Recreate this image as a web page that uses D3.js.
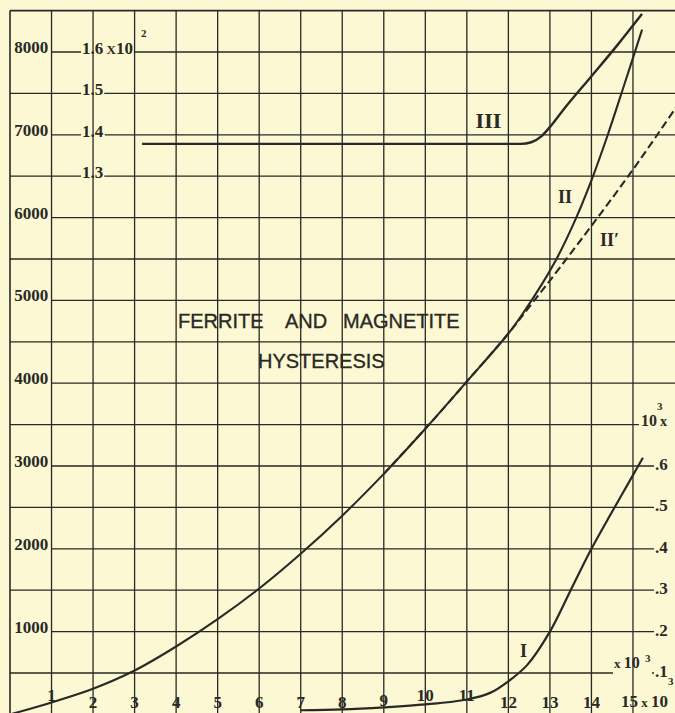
<!DOCTYPE html>
<html>
<head>
<meta charset="utf-8">
<script src="https://cdn.jsdelivr.net/npm/d3@7"></script>
<style>
html,body{margin:0;padding:0;background:#fbf8d3;}
svg{display:block;}
</style>
</head>
<body>
<svg id="chart" width="675" height="713"></svg>
<script>
// ---------------- DATA ----------------
// x axis (field, x10^3)
const xTickValues = [1,2,3,4,5,6,7,8,9,10,11,12,13,14];
const xTickLabels = ["1","2","3","4","5","6","7","8","9","10","11","12","13","14"];
// left axis (induction)
const leftTickValues = [1000,2000,3000,4000,5000,6000,7000,8000];
const leftTickLabels = ["1000","2000","3000","4000","5000","6000","7000","8000"];
// right axis for curve I (x10^3)
const rightTickValues = [0.1,0.2,0.3,0.4,0.5,0.6];
const rightTickLabels = [".1",".2",".3",".4",".5",".6"];
// inner axis for curve III (x10^2)
const iiiTickValues = [1.3,1.4,1.5,1.6];
const iiiTickLabels = ["1.3","1.4","1.5","1.6"];

// Curve II (left scale): common part up to the split
const curveIIcommon = [[0,0],[1,145],[2,310],[3,530],[4,820],[5,1150],[6,1520],[7,1940],
  [8,2400],[9,2905],[10,3450],[11,4020],[12,4600]];
// Curve II solid branch (after split)
const curveIIsolid = [[12.4,4880],[12.8,5190],[13.2,5540],[13.6,5960],[14.0,6450],[14.4,7010],[14.8,7620],[15.22,8270]];
// Curve II' dashed branch (after split)
const curveIIprime = [[12.5,4920],[13.0,5240],[14.0,5900],[15.0,6580],[16.05,7340]];
// Curve I (right scale, x10^3)
const curveI = [[7.0,0.010],[8.0,0.012],[9.0,0.017],[10.0,0.024],[11.0,0.036],[11.56,0.052],
  [12.0,0.080],[12.45,0.119],[13.0,0.200],[13.5,0.300],[14.0,0.400],[14.5,0.490],[15.0,0.578],[15.24,0.620]];
// Curve III (inner scale, x10^2)
const curveIII = [[3.18,1.378],[12.3,1.378],[12.55,1.382],[12.8,1.397],[13.05,1.425],[13.32,1.460],
  [13.97,1.538],[14.62,1.616],[15.22,1.692]];

// ---------------- LAYOUT ----------------
const W = 675, H = 713;
const paper = "#fbf8d3", ink = "#2a2925";
const svg = d3.select("#chart");
svg.append("rect").attr("width", W).attr("height", H).attr("fill", paper);

const x = d3.scaleLinear().domain([0, 16]).range([10, 674.5]);
const y = d3.scaleLinear().domain([0, 8500]).range([714.4, 10.6]);
const yR = d3.scaleLinear().domain([0, 0.6]).range([y(0), y(3000)]);
const yIII = d3.scaleLinear().domain([1.3, 1.6]).range([y(6500), y(8000)]);

const gH = svg.append("g");
const gBg = svg.append("g");
const gV = svg.append("g");
const gC = svg.append("g");
const gT = svg.append("g");

// horizontal grid
const hLines = d3.range(500, 8501, 500);
gH.selectAll("line").data(hLines).join("line")
  .attr("x1", d => leftTickValues.includes(d) ? x(1) : x(0))
  .attr("x2", W)
  .attr("y1", d => y(d)).attr("y2", d => y(d))
  .attr("stroke", ink).attr("stroke-width", d => d === 8500 ? 1.6 : 1.3);

// vertical grid
const vLines = d3.range(0, 16, 1);
gV.selectAll("line").data(vLines).join("line")
  .attr("x1", d => x(d)).attr("x2", d => x(d))
  .attr("y1", y(8500)).attr("y2", H)
  .attr("stroke", ink).attr("stroke-width", d => d === 0 ? 1.6 : 1.3);

// curves
const cr = d3.curveCatmullRom.alpha(0.5);
const lineL = d3.line().x(d => x(d[0])).y(d => y(d[1])).curve(cr);
const lineR = d3.line().x(d => x(d[0])).y(d => yR(d[1])).curve(cr);
const lineIII = d3.line().x(d => x(d[0])).y(d => yIII(d[1])).curve(d3.curveMonotoneX);

gC.append("path").attr("d", lineL(curveIIcommon.slice(-4).concat(curveIIprime))).attr("fill", "none").attr("stroke", ink)
  .attr("stroke-width", 2.1).attr("stroke-dasharray", "8,4");
gC.append("path").attr("d", lineL(curveIIcommon.concat(curveIIsolid))).attr("fill", "none").attr("stroke", ink).attr("stroke-width", 2.1);
gC.append("path").attr("d", lineR(curveI)).attr("fill", "none").attr("stroke", ink).attr("stroke-width", 2.2);
gC.append("path").attr("d", lineIII(curveIII)).attr("fill", "none").attr("stroke", ink).attr("stroke-width", 2.4);

// text helpers
const numFont = "'Liberation Serif', 'DejaVu Serif', serif";
function bg(el, padX, padY, extendRight) {
  const b = el.node().getBBox();
  gBg.append("rect")
    .attr("x", b.x - padX).attr("y", b.y - padY)
    .attr("width", extendRight ? (W - b.x + padX) : b.width + 2 * padX)
    .attr("height", b.height + 2 * padY)
    .attr("fill", paper);
}

// left labels
gT.selectAll("text.left").data(leftTickValues).join("text")
  .attr("class", "left")
  .attr("x", x(0.5) + 0.5).attr("y", d => y(d) + 1)
  .attr("text-anchor", "middle")
  .attr("font-family", numFont).attr("font-weight", "bold").attr("font-size", 17)
  .attr("fill", ink)
  .text((d, i) => leftTickLabels[i]);

// III scale labels
iiiTickValues.forEach((v, i) => {
  const t = gT.append("text")
    .attr("x", 82).attr("y", yIII(v) + 2)
    .attr("font-family", numFont).attr("font-weight", "bold").attr("font-size", 17)
    .attr("fill", ink);
  t.append("tspan").text(iiiTickLabels[i]);
  if (v === 1.6) {
    t.append("tspan").attr("font-size", 13).text(" X");
    t.append("tspan").text("10");
  }
  bg(t, 1, 0, false);
  if (v === 1.6) {
    gT.append("text").attr("x", 141).attr("y", yIII(v) - 15)
      .attr("font-family", numFont).attr("font-weight", "bold").attr("font-size", 11)
      .attr("fill", ink).text("2");
  }
});

// right labels (curve I scale)
rightTickValues.forEach((v, i) => {
  const t = gT.append("text")
    .attr("x", 655).attr("y", yR(v) + 4)
    .attr("font-family", numFont).attr("font-weight", "bold").attr("font-size", 17)
    .attr("fill", ink).text(rightTickLabels[i]);
  bg(t, 1, 0, true);
});
// "10^3 x" above right scale
{
  const g = gT.append("g");
  g.append("text").attr("x", 641).attr("y", y(3500) + 1)
    .attr("font-family", numFont).attr("font-weight", "bold").attr("font-size", 16)
    .attr("fill", ink).text("10");
  g.append("text").attr("x", 657).attr("y", y(3500) - 15)
    .attr("font-family", numFont).attr("font-weight", "bold").attr("font-size", 11)
    .attr("fill", ink).text("3");
  g.append("text").attr("x", 660).attr("y", y(3500) + 1)
    .attr("font-family", numFont).attr("font-weight", "bold").attr("font-size", 14)
    .attr("fill", ink).text("x");
  const b = g.node().getBBox();
  gBg.append("rect").attr("x", 639).attr("y", b.y).attr("width", W - 639).attr("height", b.height + 3).attr("fill", paper);
}
// "x 10^3" next to .1
{
  const g = gT.append("g");
  const t = g.append("text").attr("x", 614).attr("y", yR(0.1) - 5)
    .attr("font-family", numFont).attr("font-weight", "bold").attr("font-size", 16)
    .attr("fill", ink);
  t.append("tspan").attr("font-size", 13).text("x ");
  t.append("tspan").text("10");
  g.append("text").attr("x", 645).attr("y", yR(0.1) - 11)
    .attr("font-family", numFont).attr("font-weight", "bold").attr("font-size", 11)
    .attr("fill", ink).text("3");
  const b = g.node().getBBox();
  gBg.append("rect").attr("x", b.x - 1).attr("y", b.y).attr("width", b.width + 2).attr("height", b.height + 4).attr("fill", paper);
}

// x tick labels
const xLift = {1: 7, 9: 2, 10: 7, 11: 7};
gT.selectAll("text.xt").data(xTickValues).join("text")
  .attr("class", "xt")
  .attr("x", d => x(d)).attr("y", d => 708 - (xLift[d] || 0))
  .attr("text-anchor", "middle")
  .attr("font-family", numFont).attr("font-weight", "bold").attr("font-size", 17)
  .attr("fill", ink)
  .text((d, i) => xTickLabels[i]);
{
  const t = gT.append("text").attr("x", x(15) - 12).attr("y", 707)
    .attr("font-family", numFont).attr("font-weight", "bold").attr("font-size", 17)
    .attr("fill", ink);
  t.append("tspan").text("15");
  t.append("tspan").attr("font-size", 13).text(" x ");
  t.append("tspan").text("10");
  gT.append("text").attr("x", 668).attr("y", 685)
    .attr("font-family", numFont).attr("font-weight", "bold").attr("font-size", 11)
    .attr("fill", ink).text("3");
}

// curve labels
const curveFont = "'Liberation Serif', 'DejaVu Serif', serif";
gT.append("text").attr("x", x(11.52)).attr("y", 128).attr("text-anchor", "middle")
  .attr("font-family", curveFont).attr("font-size", 22).attr("font-weight", "bold").attr("fill", ink).text("III");
gT.append("text").attr("x", 565).attr("y", 203).attr("text-anchor", "middle")
  .attr("font-family", curveFont).attr("font-size", 18).attr("font-weight", "bold").attr("fill", ink).text("II");
gT.append("text").attr("x", 600).attr("y", 246)
  .attr("font-family", curveFont).attr("font-size", 18).attr("font-weight", "bold").attr("fill", ink).text("II′");
gT.append("text").attr("x", 523.5).attr("y", 657).attr("text-anchor", "middle")
  .attr("font-family", curveFont).attr("font-size", 18).attr("font-weight", "bold").attr("fill", ink).text("I");

// title
const titleFont = "'Liberation Sans', Arial, sans-serif";
{
  const t = gT.append("text").attr("y", 328)
    .attr("font-family", titleFont).attr("font-size", 20).attr("fill", ink)
    .attr("stroke", ink).attr("stroke-width", 0.35);
  t.append("tspan").attr("x", 178).text("FERRITE");
  t.append("tspan").attr("x", 285).text("AND");
  t.append("tspan").attr("x", 343).text("MAGNETITE");
  gT.append("text").attr("x", 258).attr("y", 368)
    .attr("font-family", titleFont).attr("font-size", 20).attr("fill", ink)
    .attr("stroke", ink).attr("stroke-width", 0.35).text("HYSTERESIS");
}
</script>
</body>
</html>
